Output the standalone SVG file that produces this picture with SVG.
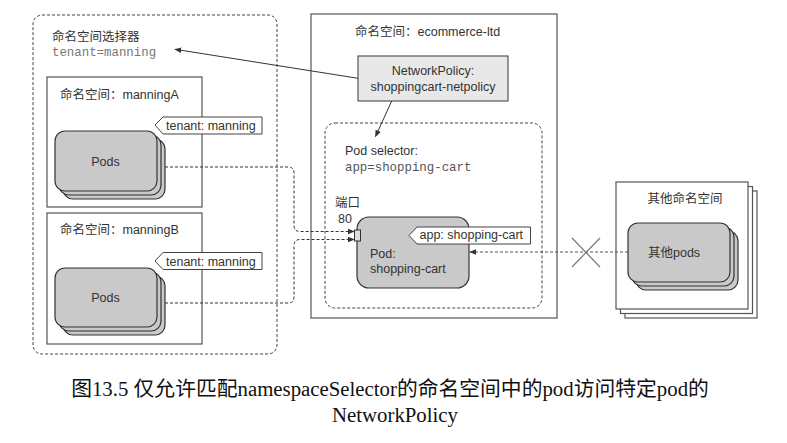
<svg xmlns="http://www.w3.org/2000/svg" width="787" height="443" viewBox="0 0 787 443">
<style>
  text { font-family: "Liberation Sans", "Noto Sans CJK SC", sans-serif; fill: #333; font-size: 12.5px; }
  .mono { font-family: "Liberation Mono", "DejaVu Sans Mono", monospace; fill: #777; font-size: 12.4px; }
  .cap { font-family: "Liberation Serif", "Noto Sans CJK SC", serif; fill: #111; font-size: 20.8px; }
  .sel { fill: none; stroke: #444; stroke-width: 1; stroke-dasharray: 3 2; }
  .ns { fill: #fff; stroke: #555; stroke-width: 1.2; }
  .card { fill: #c9c9c9; stroke: #333; stroke-width: 1.2; }
  .lbl { fill: #fff; stroke: #444; stroke-width: 1; }
  .dash { fill: none; stroke: #333; stroke-width: 1; stroke-dasharray: 3 2; }
  .solid { fill: none; stroke: #333; stroke-width: 1; }
</style>
<defs>
  <marker id="ah" viewBox="0 0 10 10" refX="9" refY="5" markerWidth="7" markerHeight="7" orient="auto" markerUnits="userSpaceOnUse">
    <path d="M0,1 L10,5 L0,9 Z" fill="#333"/>
  </marker>
</defs>
<rect width="787" height="443" fill="#fff"/>

<g id="ns-selector">
  <rect class="sel" x="33" y="15" width="244" height="339" rx="9"/>
  <text x="52" y="41">命名空间选择器</text>
  <text class="mono" x="52" y="56">tenant=manning</text>
</g>

<g id="ns-manningA">
  <rect class="ns" x="47" y="77" width="155" height="130"/>
  <text x="60" y="99">命名空间：manningA</text>
  <path class="lbl" d="M155,125 L163,117 L262,117 L262,134 L163,134 Z"/>
  <text x="166" y="129.5" font-size="12.2">tenant: manning</text>
</g>
<g id="pods-A">
  <rect class="card" x="63" y="139" width="102" height="60" rx="10"/>
  <rect class="card" x="59" y="135" width="102" height="60" rx="10"/>
  <rect class="card" x="55" y="131" width="102" height="60" rx="10"/>
  <text x="105.5" y="165.5" text-anchor="middle" font-size="12">Pods</text>
</g>

<g id="ns-manningB">
  <rect class="ns" x="47" y="213" width="155" height="131"/>
  <text x="60" y="234">命名空间：manningB</text>
  <path class="lbl" d="M155,261 L163,252.5 L262,252.5 L262,269.5 L163,269.5 Z"/>
  <text x="166" y="265.5" font-size="12.2">tenant: manning</text>
</g>
<g id="pods-B">
  <rect class="card" x="63" y="276" width="102" height="59" rx="10"/>
  <rect class="card" x="59" y="272" width="102" height="59" rx="10"/>
  <rect class="card" x="55" y="268" width="102" height="59" rx="10"/>
  <text x="105.5" y="301.5" text-anchor="middle" font-size="12">Pods</text>
</g>

<g id="ns-ecommerce">
  <rect class="ns" x="311" y="14" width="246" height="304"/>
  <text x="355" y="36">命名空间：ecommerce-ltd</text>
</g>

<g id="networkpolicy">
  <rect x="358" y="56" width="150" height="45" fill="#e8e8e8" stroke="#555" stroke-width="1.2"/>
  <text x="433" y="75" text-anchor="middle" font-size="12.5">NetworkPolicy:</text>
  <text x="433" y="91" text-anchor="middle" font-size="12.5">shoppingcart-netpolicy</text>
</g>

<g id="pod-selector">
  <rect class="sel" x="325" y="123" width="217" height="185" rx="10"/>
  <text x="345" y="155">Pod selector:</text>
  <text class="mono" x="345" y="171" style="fill:#555" font-size="12.6">app=shopping-cart</text>
</g>

<g id="pod-shopping-cart">
  <rect class="card" x="357" y="217" width="112" height="71" rx="12" fill="#cbcbcb"/>
  <rect x="354.5" y="230" width="6" height="11" fill="#ddd" stroke="#333" stroke-width="1"/>
  <text x="335" y="207" font-size="12">端口</text>
  <text x="338" y="222.5" font-size="12">80</text>
  <path class="lbl" d="M409,235.5 L417,227 L530.5,227 L530.5,244 L417,244 Z"/>
  <text x="419.5" y="238.5" font-size="13.3">app: shopping-cart</text>
  <text x="370" y="257.5" font-size="13">Pod:</text>
  <text x="370" y="273" font-size="13">shopping-cart</text>
</g>

<g id="ns-other">
  <rect class="ns" x="625" y="191" width="132" height="127"/>
  <rect class="ns" x="620.5" y="186.5" width="132" height="127"/>
  <rect class="ns" x="616" y="182" width="132" height="127"/>
  <text x="685" y="202.5" text-anchor="middle">其他命名空间</text>
</g>
<g id="pods-other">
  <rect class="card" x="636" y="231" width="102" height="59" rx="10"/>
  <rect class="card" x="632" y="227" width="102" height="59" rx="10"/>
  <rect class="card" x="628" y="223" width="102" height="59" rx="10"/>
  <text x="648" y="257">其他pods</text>
</g>

<g id="connectors">
  <line class="solid" x1="358" y1="78.3" x2="175" y2="49.3" marker-end="url(#ah)"/>
  <line class="solid" x1="391.7" y1="101" x2="375.5" y2="136.5" marker-end="url(#ah)"/>
  <path class="dash" d="M165,167 H288 Q294,167 294,173 V225 Q294,231.5 300,231.5 H354" marker-end="url(#ah)"/>
  <path class="dash" d="M165,303 H288 Q294,303 294,297 V245.5 Q294,239.5 300,239.5 H354" marker-end="url(#ah)"/>
  <line x1="628" y1="252" x2="470" y2="252" stroke="#555" stroke-width="1" stroke-dasharray="3 2" marker-end="url(#ah)"/>
  <line x1="572" y1="238" x2="600" y2="267" stroke="#777" stroke-width="1.2"/>
  <line x1="572" y1="267" x2="600" y2="238" stroke="#777" stroke-width="1.2"/>
</g>

<g id="caption">
  <text class="cap" x="390" y="396" text-anchor="middle">图13.5 仅允许匹配namespaceSelector的命名空间中的pod访问特定pod的</text>
  <text class="cap" x="395" y="421.5" text-anchor="middle">NetworkPolicy</text>
</g>
</svg>
